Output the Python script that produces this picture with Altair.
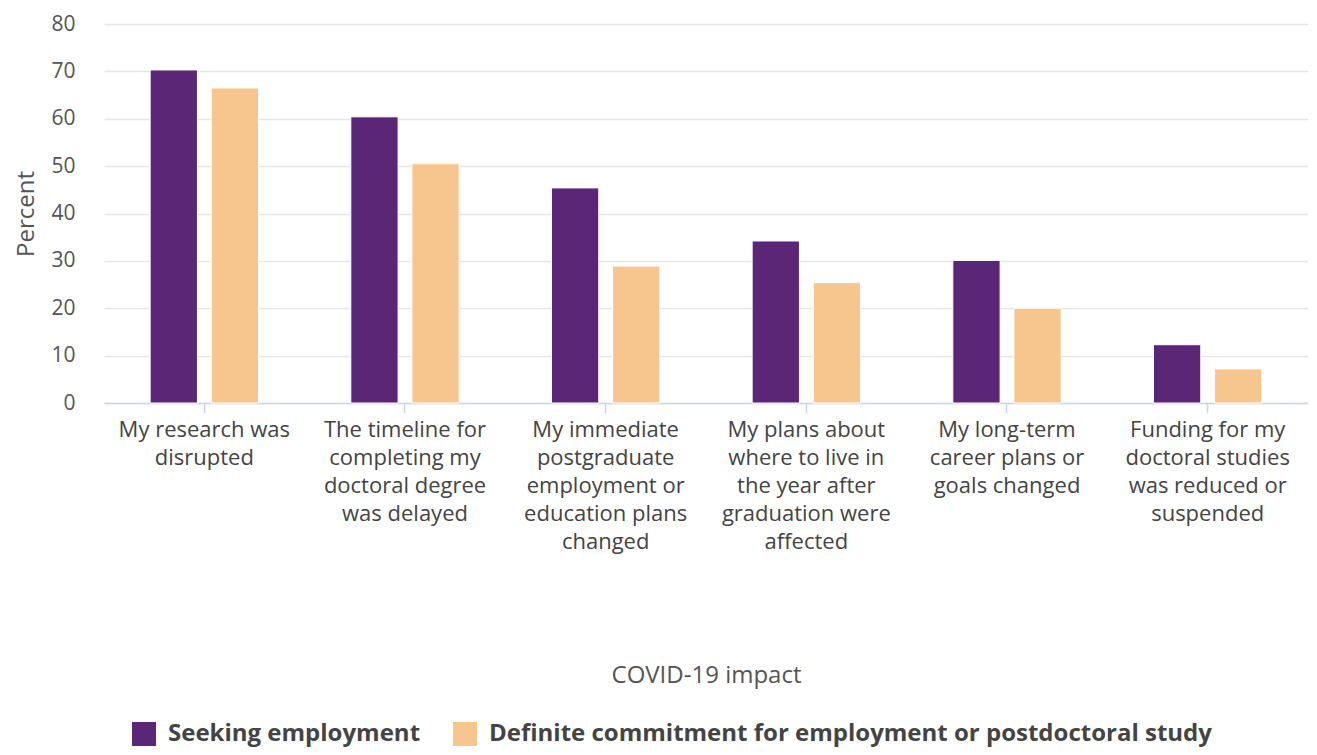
import altair as alt
import pandas as pd

categories = [
    "My research was\ndisrupted",
    "The timeline for\ncompleting my\ndoctoral degree\nwas delayed",
    "My immediate\npostgraduate\nemployment or\neducation plans\nchanged",
    "My plans about\nwhere to live in\nthe year after\ngraduation were\naffected",
    "My long-term\ncareer plans or\ngoals changed",
    "Funding for my\ndoctoral studies\nwas reduced or\nsuspended",
]
series_names = [
    "Seeking employment",
    "Definite commitment for employment or postdoctoral study",
]
seeking = [70.3, 60.4, 45.4, 34.2, 30.1, 12.3]
definite = [66.5, 50.5, 28.9, 25.4, 20.0, 7.2]
colors = ["#5c2677", "#f7c68f"]
y_ticks = [0, 10, 20, 30, 40, 50, 60, 70, 80]

rows = []
for c, a, b in zip(categories, seeking, definite):
    rows.append({"impact": c, "series": series_names[0], "value": a})
    rows.append({"impact": c, "series": series_names[1], "value": b})
df = pd.DataFrame(rows)

FONT = "Open Sans"

chart = (
    alt.Chart(df)
    .mark_bar(stroke="white", strokeWidth=1)
    .encode(
        x=alt.X(
            "impact:N",
            sort=categories,
            title="COVID-19 impact",
            scale=alt.Scale(paddingInner=0.46, paddingOuter=0.23),
            axis=alt.Axis(
                labelAngle=0,
                labelExpr="split(datum.value, '\\n')",
                labelFontSize=22,
                labelLineHeight=28,
                labelColor="#444444",
                labelFont=FONT,
                labelPadding=6,
                labelBaseline="top",
                tickSize=10,
                tickColor="#ccd6eb",
                tickWidth=1.5,
                domainColor="#ccd6eb",
                domainWidth=1.5,
                titleFontSize=24,
                titleFontWeight="normal",
                titleColor="#555555",
                titleFont=FONT,
                titlePadding=111,
                grid=False,
            ),
        ),
        xOffset=alt.XOffset(
            "series:N",
            sort=series_names,
            scale=alt.Scale(paddingInner=0.226, paddingOuter=0),
        ),
        y=alt.Y(
            "value:Q",
            title="Percent",
            scale=alt.Scale(domain=[0, 80], nice=False),
            axis=alt.Axis(
                values=y_ticks,
                ticks=False,
                domain=False,
                labelFontSize=21,
                labelColor="#555555",
                labelFont=FONT,
                labelPadding=29,
                gridColor="#e6e6e6",
                gridWidth=1.5,
                titleFontSize=24,
                titleFontWeight="normal",
                titleColor="#555555",
                titleFont=FONT,
                titlePadding=12,
            ),
        ),
        color=alt.Color(
            "series:N",
            sort=series_names,
            scale=alt.Scale(domain=series_names, range=colors),
            legend=alt.Legend(
                title=None,
                orient="none",
                direction="horizontal",
                legendX=28,
                legendY=698,
                symbolType="square",
                symbolSize=576,
                symbolStrokeWidth=0,
                symbolOpacity=1,
                labelFontSize=24,
                labelFontWeight="bold",
                labelColor="#444444",
                labelFont=FONT,
                labelOffset=12,
                columnPadding=32,
                labelLimit=1000,
            ),
        ),
    )
    .properties(width=1204, height=379, padding={"left": 6, "top": 5, "right": 0, "bottom": 6})
    .configure_view(stroke=None)
)

chart.save("out.html", embed_options={"renderer": "svg", "actions": False})
